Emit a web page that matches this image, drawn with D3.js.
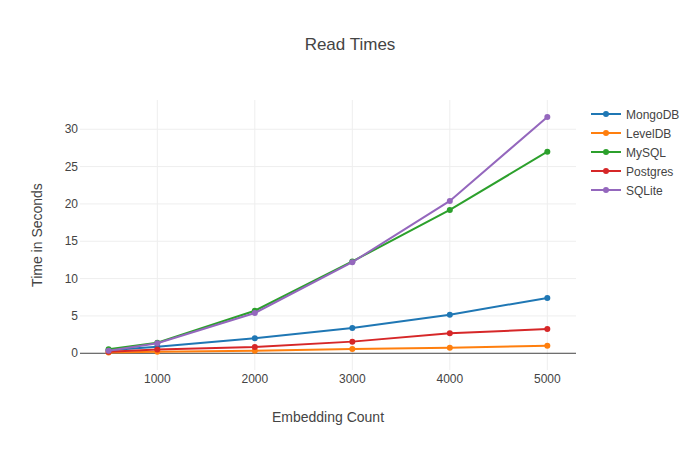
<!DOCTYPE html>
<html>
<head>
<meta charset="utf-8">
<script src="https://cdn.jsdelivr.net/npm/d3@7"></script>
<style>
  body { margin: 0; background: #fff; }
  svg text { font-family: "Liberation Sans", Arial, sans-serif; fill: #444; }
</style>
</head>
<body>
<svg id="chart" width="700" height="450"></svg>
<script>
// embedding counts on the x axis
const counts = [500, 1000, 2000, 3000, 4000, 5000];
const dbNames = ["MongoDB", "LevelDB", "MySQL", "Postgres", "SQLite"];
const mongoTimes = [0.4, 0.88, 2.0, 3.39, 5.17, 7.41];
const levelTimes = [0.1, 0.22, 0.35, 0.58, 0.75, 1.02];
const mysqlTimes = [0.53, 1.42, 5.7, 12.3, 19.2, 27.0];
const postgresTimes = [0.2, 0.5, 0.85, 1.56, 2.68, 3.25];
const sqliteTimes = [0.35, 1.35, 5.4, 12.2, 20.4, 31.65];
const xTicks = [1000, 2000, 3000, 4000, 5000];
const yTicks = [0, 5, 10, 15, 20, 25, 30];
const colors = ["#1f77b4", "#ff7f0e", "#2ca02c", "#d62728", "#9467bd"];

const series = [mongoTimes, levelTimes, mysqlTimes, postgresTimes, sqliteTimes].map(function (vals, i) {
    return { name: dbNames[i], color: colors[i], values: vals };
});

const plotL = 80, plotR = 576, plotT = 100, plotB = 370;
const x = d3.scaleLinear().domain([207, 5294]).range([plotL, plotR]);
const y = d3.scaleLinear().domain([-2.24, 33.92]).range([plotB, plotT]);

const svg = d3.select("#chart");

// grid
svg.append("g").selectAll("line").data(xTicks).join("line")
    .attr("x1", d => x(d)).attr("x2", d => x(d))
    .attr("y1", plotT).attr("y2", plotB)
    .attr("stroke", "#eee").attr("stroke-width", 1);
svg.append("g").selectAll("line").data(yTicks.filter(d => d !== 0)).join("line")
    .attr("x1", plotL).attr("x2", plotR)
    .attr("y1", d => y(d)).attr("y2", d => y(d))
    .attr("stroke", "#eee").attr("stroke-width", 1);

// zero line
svg.append("line")
    .attr("x1", plotL).attr("x2", plotR)
    .attr("y1", y(0)).attr("y2", y(0))
    .attr("stroke", "#444").attr("stroke-width", 1);

// tick labels
svg.append("g").selectAll("text").data(xTicks).join("text")
    .attr("x", d => x(d)).attr("y", 383)
    .attr("text-anchor", "middle")
    .style("font-size", "12px")
    .text(d => d);
svg.append("g").selectAll("text").data(yTicks).join("text")
    .attr("x", 78).attr("y", d => y(d) + 4)
    .attr("text-anchor", "end")
    .style("font-size", "12px")
    .text(d => d);

// lines and markers
const line = d3.line().x((d, i) => x(counts[i])).y(d => y(d));
for (const s of series) {
    svg.append("path")
        .attr("d", line(s.values))
        .attr("fill", "none")
        .attr("stroke", s.color)
        .attr("stroke-width", 2);
    svg.append("g").selectAll("circle").data(s.values).join("circle")
        .attr("cx", (d, i) => x(counts[i]))
        .attr("cy", d => y(d))
        .attr("r", 3)
        .attr("fill", s.color);
}

// titles
svg.append("text")
    .attr("x", 350).attr("y", 50)
    .attr("text-anchor", "middle")
    .style("font-size", "17px")
    .text("Read Times");
svg.append("text")
    .attr("x", (plotL + plotR) / 2).attr("y", 422)
    .attr("text-anchor", "middle")
    .style("font-size", "14px")
    .text("Embedding Count");
svg.append("text")
    .attr("transform", "translate(42," + (plotT + plotB) / 2 + ") rotate(-90)")
    .attr("text-anchor", "middle")
    .style("font-size", "14px")
    .text("Time in Seconds");

// legend
const legend = svg.append("g").selectAll("g").data(series).join("g")
    .attr("transform", (d, i) => "translate(591," + (114 + i * 19) + ")");
legend.append("line")
    .attr("x1", 0).attr("x2", 30)
    .attr("stroke", d => d.color).attr("stroke-width", 2);
legend.append("circle")
    .attr("cx", 15).attr("r", 3)
    .attr("fill", d => d.color);
legend.append("text")
    .attr("x", 35).attr("y", 4.5)
    .style("font-size", "12px")
    .text(d => d.name);
</script>
</body>
</html>
